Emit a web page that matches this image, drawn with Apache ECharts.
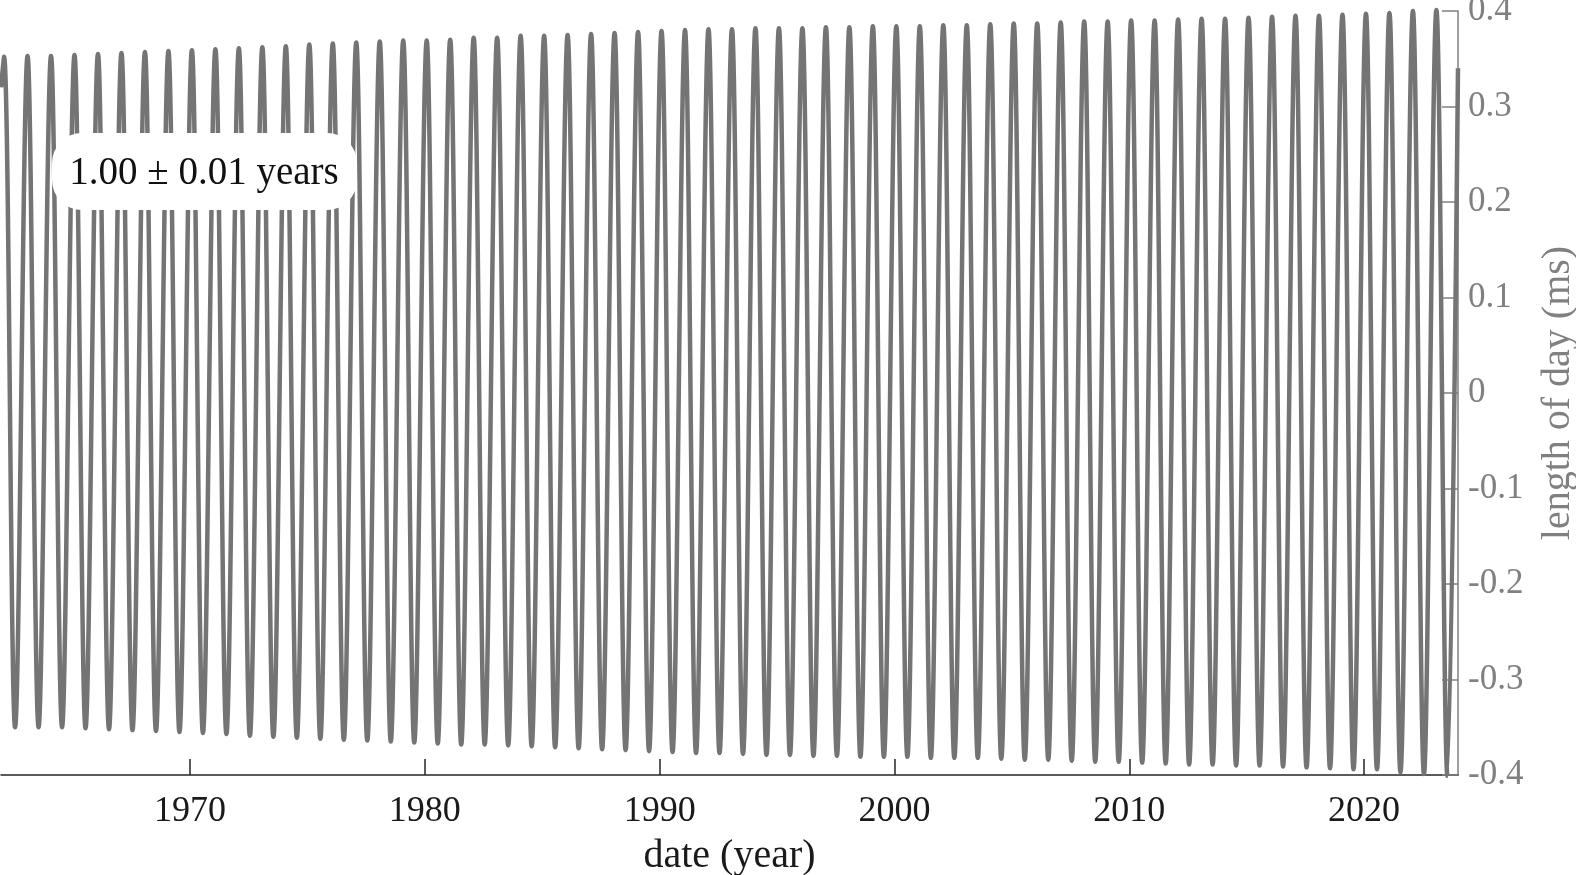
<!DOCTYPE html>
<html>
<head>
<meta charset="utf-8">
<title>length of day</title>
<style>
    html, body { margin: 0; padding: 0; background: #fff; }
    .chart { width: 1576px; height: 875px; }
</style>
<script src="https://cdn.jsdelivr.net/npm/echarts@6/dist/echarts.min.js"></script>
</head>
<body>
<div class="chart"></div>
<script>
// one annual cycle per year
var years = [1962, 1963, 1964, 1965, 1966, 1967, 1968, 1969, 1970, 1971,
    1972, 1973, 1974, 1975, 1976, 1977, 1978, 1979, 1980, 1981,
    1982, 1983, 1984, 1985, 1986, 1987, 1988, 1989, 1990, 1991,
    1992, 1993, 1994, 1995, 1996, 1997, 1998, 1999, 2000, 2001,
    2002, 2003, 2004, 2005, 2006, 2007, 2008, 2009, 2010, 2011,
    2012, 2013, 2014, 2015, 2016, 2017, 2018, 2019, 2020, 2021,
    2022, 2023];
// max of each cycle (ms)
var peakValues = [0.352, 0.353, 0.353, 0.354, 0.355, 0.356, 0.357, 0.358, 0.359, 0.360,
    0.361, 0.362, 0.363, 0.365, 0.366, 0.367, 0.368, 0.369, 0.369, 0.370,
    0.372, 0.372, 0.374, 0.374, 0.375, 0.376, 0.377, 0.378, 0.379, 0.380,
    0.381, 0.381, 0.382, 0.382, 0.382, 0.383, 0.383, 0.384, 0.384, 0.384,
    0.385, 0.385, 0.386, 0.387, 0.387, 0.388, 0.389, 0.389, 0.390, 0.390,
    0.391, 0.392, 0.392, 0.393, 0.394, 0.395, 0.395, 0.396, 0.397, 0.398,
    0.400, 0.401];
// min of each cycle (ms)
var troughValues = [-0.350, -0.350, -0.350, -0.351, -0.352, -0.353, -0.354, -0.355, -0.356, -0.357,
    -0.359, -0.360, -0.361, -0.362, -0.363, -0.364, -0.365, -0.366, -0.367, -0.368,
    -0.368, -0.369, -0.370, -0.371, -0.372, -0.373, -0.374, -0.375, -0.376, -0.377,
    -0.377, -0.378, -0.379, -0.379, -0.380, -0.380, -0.381, -0.381, -0.381, -0.382,
    -0.382, -0.382, -0.383, -0.384, -0.384, -0.385, -0.386, -0.386, -0.387, -0.388,
    -0.389, -0.389, -0.390, -0.390, -0.391, -0.392, -0.393, -0.394, -0.394, -0.397,
    -0.399, -0.401];
// where in the year the max and the min fall
var peakOffset = 0.08;
var troughOffset = 0.55;
// first and last samples of the record
var startPoint = [1961.95, 0.32];
var endPoint = [2024.0, 0.34];
// x tick labels
var xTicks = [1970, 1980, 1990, 2000, 2010, 2020];

(function () {
    var myChart = echarts.init(document.querySelector(".chart"));
    var serif = '"Liberation Serif", "Times New Roman", serif';

    // peaks and troughs in time order
    var lineData = [startPoint];
    for (var i = 0; i < years.length; i++) {
        lineData.push([years[i] + peakOffset, peakValues[i]]);
        lineData.push([years[i] + troughOffset, troughValues[i]]);
    }
    lineData.push(endPoint);

    var option = {
        animation: false,
        grid: {
            left: 1,
            right: 118,
            top: 11,
            bottom: 100,
            containLabel: false,
            outerBoundsMode: 'none'
        },
        xAxis: {
            type: 'value',
            min: 1961.95,
            max: 2024.0,
            name: 'date (year)',
            nameLocation: 'middle',
            nameGap: 61,
            nameTextStyle: {
                fontSize: 40,
                color: '#1a1a1a',
                fontFamily: serif
            },
            // x axis at the bottom, not at zero
            axisLine: {
                onZero: false,
                lineStyle: { color: '#262626', width: 1.5 }
            },
            axisTick: {
                inside: true,
                length: 16,
                customValues: xTicks,
                lineStyle: { color: '#262626', width: 1.5 }
            },
            axisLabel: {
                customValues: xTicks,
                color: '#1a1a1a',
                fontSize: 36,
                fontFamily: serif,
                margin: 19,
                formatter: function (v) {
                    return String(Math.round(v));
                }
            },
            splitLine: { show: false }
        },
        yAxis: {
            type: 'value',
            position: 'right',
            min: -0.4,
            max: 0.4,
            interval: 0.1,
            name: 'length of day (ms)',
            nameLocation: 'middle',
            nameRotate: 90,
            nameGap: 80,
            nameTextStyle: {
                fontSize: 40,
                color: '#808080',
                fontFamily: serif
            },
            axisLine: {
                show: true,
                onZero: false,
                lineStyle: { color: '#808080', width: 1.5 }
            },
            axisTick: {
                show: true,
                inside: true,
                length: 16,
                lineStyle: { color: '#808080', width: 1.5 }
            },
            axisLabel: {
                color: '#808080',
                fontSize: 35,
                fontFamily: serif,
                margin: 10
            },
            splitLine: { show: false }
        },
        series: [
            {
                type: 'line',
                data: lineData,
                showSymbol: false,
                smooth: 0.36,
                clip: false,
                lineStyle: { color: '#747474', width: 4.5 }
            }
        ],
        // period label box
        graphic: [
            {
                type: 'rect',
                shape: { x: 52, y: 133, width: 305, height: 77, r: 30 },
                style: { fill: '#fff' },
                z: 100
            },
            {
                type: 'text',
                x: 204,
                y: 174,
                style: {
                    text: '1.00 ± 0.01 years',
                    font: '39px ' + serif,
                    fill: '#111',
                    align: 'center',
                    verticalAlign: 'middle',
                    textAlign: 'center',
                    textVerticalAlign: 'middle'
                },
                z: 101
            }
        ]
    };
    myChart.setOption(option);
    window.addEventListener('resize', function () {
        myChart.resize();
    });
})();
</script>
</body>
</html>
